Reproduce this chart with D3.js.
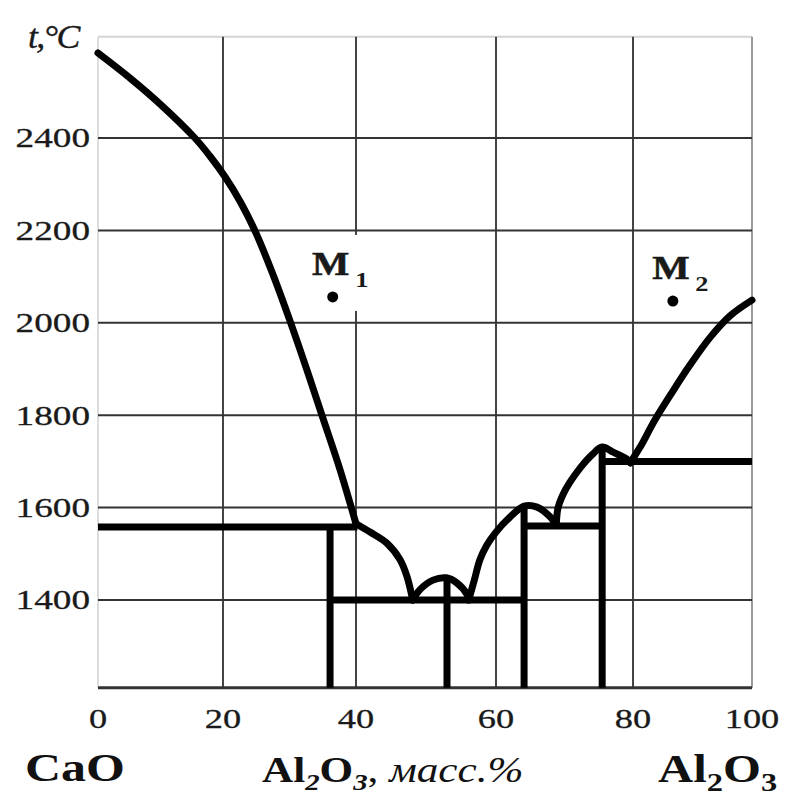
<!DOCTYPE html>
<html><head><meta charset="utf-8">
<script src="https://cdn.jsdelivr.net/npm/d3@7"></script>
<style>html,body{margin:0;padding:0;background:#fff;} svg{display:block;}</style>
</head><body>
<svg id="chart" width="797" height="797"></svg>
<script>
// ---------- data ----------
const xTicks = [0, 20, 40, 60, 80, 100];
const xTickLabels = ["0", "20", "40", "60", "80", "100"];
const yTicks = [1400, 1600, 1800, 2000, 2200, 2400];
const yTickLabels = ["1400", "1600", "1800", "2000", "2200", "2400"];
const tLimits = [1210, 2619];

// liquidus curve (Al2O3 mass %, temperature °C)
const liquidusX = [0, 5.1, 9.9, 15.5, 17.9, 20.3, 22.6, 25.0, 27.5, 30.1, 32.5, 34.9, 37.6, 40,
  42.0, 44.4, 46.3, 47.3, 48.1,
  49.1, 51.0, 52.9, 54.4, 55.9, 56.1,
  56.9, 57.7, 58.7, 60.0, 62.0, 64.1, 66.0, 67.9, 68.8,
  69.05, 69.8, 70.8, 72.3, 74.0, 75.5, 77.1, 79.1, 79.6,
  81.2, 83.7, 86.6, 89.6, 93.0, 96.3, 100];
const liquidusT = [2584, 2530, 2474, 2400, 2361, 2316, 2262, 2193, 2105, 2003, 1903, 1799, 1682, 1565,
  1547, 1523, 1487, 1450, 1400,
  1422, 1443, 1448, 1437, 1411, 1400,
  1443, 1487, 1519, 1547, 1579, 1603, 1601, 1580, 1562,
  1599, 1629, 1655, 1686, 1714, 1731, 1720, 1705, 1697,
  1731, 1790, 1850, 1909, 1969, 2015, 2049];
const liquidusBreaks = [40, 48.1, 56.1, 68.8, 79.6];

// horizontal isotherms
const isoFromX = [0, 36.1, 64.1, 75.5];
const isoToX = [40.2, 64.4, 75.6, 100];
const isoT = [1558, 1400, 1560, 1700];

// compounds (vertical lines)
const compoundX = [36.1, 53.0, 64.1, 75.5];
const compoundTopT = [1558, 1448, 1603, 1731];

// marked points
const pointX = [36.5, 86.7];
const pointT = [2056, 2047];
const pointSub = ["1", "2"];

// ---------- scales ----------
const svg = d3.select("#chart");
const x = d3.scaleLinear().domain(xTicks).range([98, 223, 356, 496, 633, 752]);
const y = d3.scaleLinear().domain([1400, 2400]).range([600, 138]);
const X0 = x(0), X1 = x(100), Ytop = y(tLimits[1]), Ybot = y(tLimits[0]);

const serif = "Liberation Serif, Times New Roman, serif";

// frame
svg.append("line").attr("x1", X0).attr("x2", X1).attr("y1", Ytop).attr("y2", Ytop)
  .attr("stroke", "#d4d4d4").attr("stroke-width", 2);
svg.append("line").attr("x1", X0).attr("x2", X0).attr("y1", Ytop).attr("y2", Ybot)
  .attr("stroke", "#dcdcdc").attr("stroke-width", 2);
svg.append("line").attr("x1", X1).attr("x2", X1).attr("y1", Ytop).attr("y2", Ybot)
  .attr("stroke", "#9a9a9a").attr("stroke-width", 2);

// grid
svg.append("g").selectAll("line").data(xTicks.slice(1, -1)).join("line")
  .attr("x1", d => x(d)).attr("x2", d => x(d)).attr("y1", Ytop).attr("y2", Ybot)
  .attr("stroke", "#444").attr("stroke-width", 2);
svg.append("g").selectAll("line").data(yTicks).join("line")
  .attr("x1", X0).attr("x2", X1).attr("y1", d => y(d)).attr("y2", d => y(d))
  .attr("stroke", "#333").attr("stroke-width", 2);

// bottom axis line
svg.append("line").attr("x1", X0).attr("x2", X1).attr("y1", Ybot).attr("y2", Ybot)
  .attr("stroke", "#333").attr("stroke-width", 3);

// tick labels
svg.append("g").selectAll("text").data(yTicks).join("text")
  .attr("transform", d => `translate(90,${y(d)}) scale(1.33,1)`)
  .attr("text-anchor", "end").attr("dominant-baseline", "central")
  .attr("font-family", serif).attr("font-size", 28).attr("fill", "#1a1a1a")
  .attr("stroke", "#1a1a1a").attr("stroke-width", 0.3)
  .text((d, i) => yTickLabels[i]);
svg.append("g").selectAll("text").data(xTicks).join("text")
  .attr("transform", d => `translate(${x(d)},719) scale(1.3,1)`)
  .attr("text-anchor", "middle").attr("dominant-baseline", "central")
  .attr("font-family", serif).attr("font-size", 28).attr("fill", "#1a1a1a")
  .attr("stroke", "#1a1a1a").attr("stroke-width", 0.3)
  .text((d, i) => xTickLabels[i]);

// thick lines
const thick = svg.append("g").attr("stroke", "#000").attr("stroke-width", 7);
thick.selectAll("line.iso").data(isoT).join("line").attr("class", "iso")
  .attr("x1", (d, i) => x(isoFromX[i])).attr("x2", (d, i) => x(isoToX[i]))
  .attr("y1", d => y(d)).attr("y2", d => y(d));
thick.selectAll("line.comp").data(compoundX).join("line").attr("class", "comp")
  .attr("x1", d => x(d)).attr("x2", d => x(d))
  .attr("y1", (d, i) => y(compoundTopT[i])).attr("y2", Ybot);

// liquidus segments
const pts = liquidusX.map((v, i) => [v, liquidusT[i]]);
const bounds = [0, ...liquidusBreaks, 100];
const segs = [];
for (let k = 0; k < bounds.length - 1; k++) {
  segs.push(pts.filter(p => p[0] >= bounds[k] && p[0] <= bounds[k + 1]));
}
const line = d3.line().x(d => x(d[0])).y(d => y(d[1])).curve(d3.curveCatmullRom.alpha(0.5));
svg.append("g").selectAll("path").data(segs).join("path")
  .attr("d", line).attr("fill", "none").attr("stroke", "#000")
  .attr("stroke-width", 7).attr("stroke-linejoin", "round").attr("stroke-linecap", "round");

// marked points
const pg = svg.append("g").selectAll("g").data(pointX).join("g")
  .attr("transform", (d, i) => `translate(${x(d)},${y(pointT[i])})`);
pg.append("rect").attr("x", -24).attr("y", -62).attr("width", 62).attr("height", 76).attr("fill", "#fff");
pg.append("circle").attr("r", 5.5).attr("fill", "#000");
pg.append("text").attr("transform", "translate(-2,-22) scale(1.2,1)")
  .attr("text-anchor", "middle").attr("font-family", serif).attr("font-weight", "bold")
  .attr("font-size", 33).attr("fill", "#1a1a1a").attr("stroke", "#1a1a1a").attr("stroke-width", 0.5)
  .text("M");
pg.append("text").attr("transform", "translate(29,-10) scale(1.2,1)")
  .attr("text-anchor", "middle").attr("font-family", serif).attr("font-weight", "bold")
  .attr("font-size", 22).attr("fill", "#1a1a1a").text((d, i) => pointSub[i]);

// axis titles
svg.append("text").attr("transform", "translate(28,48) scale(1.05,1)")
  .attr("font-family", serif).attr("font-style", "italic").attr("font-size", 34)
  .attr("fill", "#1a1a1a").attr("stroke", "#1a1a1a").attr("stroke-width", 0.4)
  .attr("letter-spacing", -1.5).text("t,°C");

svg.append("text").attr("transform", "translate(25,781) scale(1.28,1)")
  .attr("font-family", serif).attr("font-weight", "bold").attr("font-size", 39)
  .attr("fill", "#111").text("CaO");

const mid = svg.append("text").attr("transform", "translate(262,782) scale(1.2,1)")
  .attr("font-family", serif).attr("font-size", 36).attr("fill", "#111");
mid.append("tspan").attr("font-weight", "bold").text("Al");
mid.append("tspan").attr("font-weight", "bold").attr("font-style", "italic").attr("font-size", 24).attr("dy", 8).text("2");
mid.append("tspan").attr("font-weight", "bold").attr("dy", -8).text("O");
mid.append("tspan").attr("font-weight", "bold").attr("font-style", "italic").attr("font-size", 24).attr("dy", 8).text("3");
mid.append("tspan").attr("dy", -8).text(", ");
mid.append("tspan").attr("font-style", "italic").text("масс.%");

const right = svg.append("text").attr("transform", "translate(658,782) scale(1.25,1)")
  .attr("font-family", serif).attr("font-weight", "bold").attr("font-size", 39).attr("fill", "#111");
right.append("tspan").text("Al");
right.append("tspan").attr("font-size", 26).attr("dy", 9).text("2");
right.append("tspan").attr("dy", -9).text("O");
right.append("tspan").attr("font-size", 26).attr("dy", 9).text("3");
</script>
</body></html>
